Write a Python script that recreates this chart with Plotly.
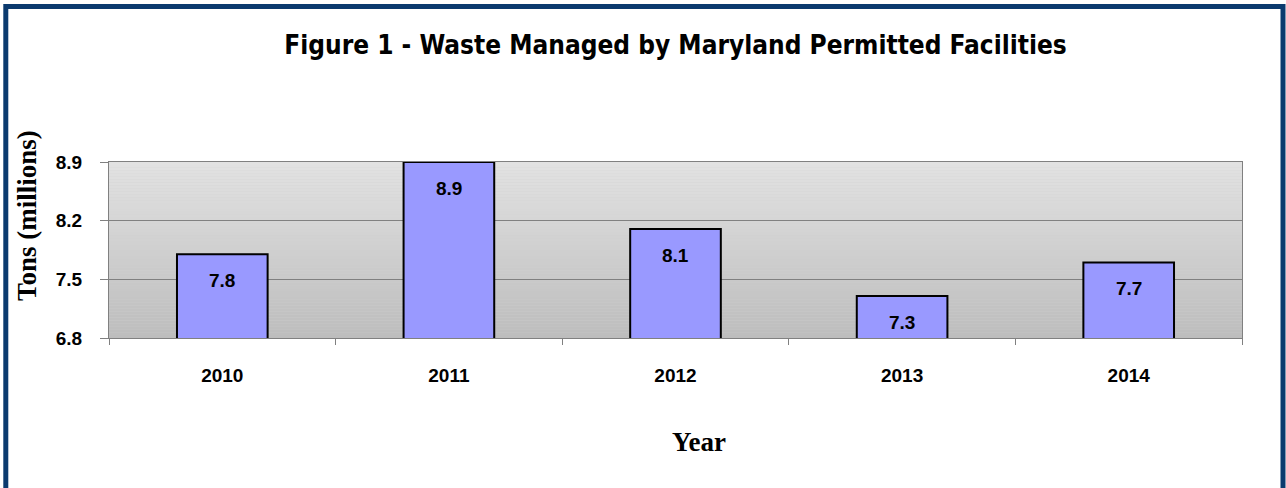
import plotly.graph_objects as go

years = ["2010", "2011", "2012", "2013", "2014"]
tons = [7.8, 8.9, 8.1, 7.3, 7.7]
ytick_vals = [6.8, 7.5, 8.2, 8.9]
ytick_text = ["6.8", "7.5", "8.2", "8.9"]

W, H = 1286, 488
ML, MT, PW, PH = 109, 162, 1133, 176
MR, MB = W - ML - PW, H - MT - PH

def px_x(p):
    return (p - ML) / PW

def px_y(p):
    return (H - MB - p) / PH

fig = go.Figure()
fig.add_trace(go.Bar(
    x=years, y=tons,
    marker=dict(color="#9999ff", line=dict(color="#000000", width=2)),
    width=0.4,
    hoverinfo="x+y",
))

# value labels near bar tops
for i, v in enumerate(tons):
    fig.add_annotation(x=i, y=v, xref="x", yref="y", text=f"<b>{v:.1f}</b>", showarrow=False,
                       yanchor="middle", yshift=-26,
                       font=dict(family="Arial, Liberation Sans, sans-serif", size=19, color="#000000"))

# axis titles
fig.add_annotation(x=px_x(27), y=px_y(216), xref="paper", yref="paper", text="<b>Tons (millions)</b>",
                   textangle=-90, showarrow=False, xanchor="center", yanchor="middle",
                   font=dict(family="Times New Roman, Liberation Serif, serif", size=27, color="#000000"))
fig.add_annotation(x=px_x(699), y=px_y(442), xref="paper", yref="paper", text="<b>Year</b>",
                   showarrow=False, xanchor="center", yanchor="middle",
                   font=dict(family="Times New Roman, Liberation Serif, serif", size=27, color="#000000"))

# gradient background strips (plot area)
N = 60
for i in range(N):
    t = i / (N - 1)
    g = int(round(0xbd + (0xe2 - 0xbd) * t))
    fig.add_shape(type="rect", xref="paper", yref="paper",
                  x0=0, x1=1, y0=i / N, y1=(i + 1) / N,
                  fillcolor=f"rgb({g},{g},{g})", line=dict(width=0), layer="below")

# outer navy border
fig.add_shape(type="rect", xref="paper", yref="paper",
              x0=px_x(5.8), x1=px_x(1283), y0=px_y(510), y1=px_y(6.5),
              line=dict(color="#0b3a6e", width=5), fillcolor="rgba(0,0,0,0)", layer="above")

fig.update_layout(
    width=W, height=H,
    margin=dict(l=ML, r=MR, t=MT, b=MB),
    paper_bgcolor="#ffffff", plot_bgcolor="#d0d0d0",
    showlegend=False,
    title=dict(text="<b>Figure 1 - Waste Managed by Maryland Permitted Facilities</b>",
               x=0.5, xref="paper", xanchor="center", y=1 - 45 / H, yanchor="middle",
               font=dict(family="DejaVu Sans Condensed, sans-serif",
                         size=26, color="#000000")),
    bargap=0.6,
)

fig.update_xaxes(
    type="category", range=[-0.5, 4.5],
    tickfont=dict(family="Arial, Liberation Sans, sans-serif", size=19, color="#000000", weight="bold"),
    ticks="outside", tickson="boundaries", ticklen=6, tickcolor="#808080",
    showline=True, linecolor="#808080", linewidth=1, mirror=True,
    ticklabelstandoff=20, tickangle=0,
    showgrid=False,
)
fig.update_yaxes(
    range=[6.8, 8.9],
    tickvals=ytick_vals, ticktext=ytick_text,
    tickfont=dict(family="Arial, Liberation Sans, sans-serif", size=19, color="#000000", weight="bold"),
    ticks="outside", ticklen=8, tickcolor="#808080",
    showline=True, linecolor="#808080", linewidth=1, mirror=True,
    ticklabelstandoff=14,
    showgrid=True, gridcolor="#808080", gridwidth=1,
    zeroline=False,
)

fig.write_html("out.html", config={"displayModeBar": False},
               post_script="document.body.style.margin='0';document.body.style.overflow='hidden';")
